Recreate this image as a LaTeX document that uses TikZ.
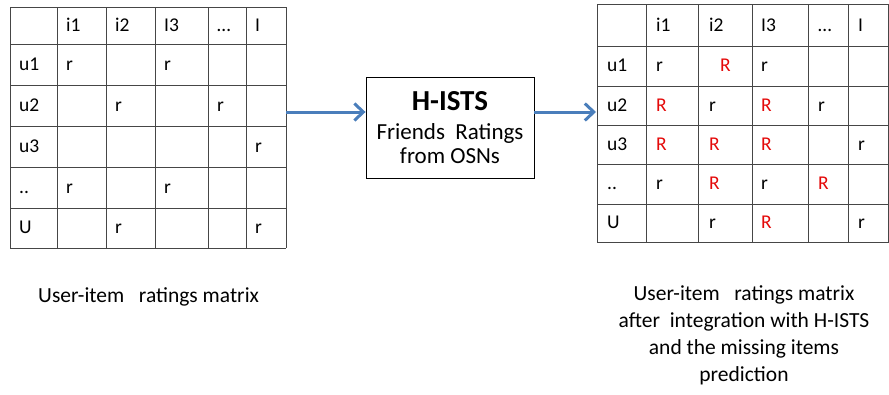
\documentclass[tikz,border=0pt]{standalone}
\usepackage{fontspec}
\setmainfont{Carlito}
\usetikzlibrary{positioning,arrows.meta}
\definecolor{gridgray}{RGB}{70,70,70}
\definecolor{predred}{RGB}{228,10,10}
\definecolor{flowblue}{RGB}{74,126,187}

\begin{document}
\begin{tikzpicture}[x=1pt,y=-1pt,
  font=\fontsize{19.5}{22}\selectfont,
  grid/.style={draw=gridgray,line width=0.9pt},
  cell/.style={anchor=base west,inner sep=0pt},
  pred/.style={cell,text=predred},
  caption/.style={inner sep=0pt,align=center,font=\fontsize{21.5}{27.3}\selectfont},
  flow/.style={draw=flowblue,line width=3pt,-{Straight Barb[length=9pt,width=17pt]}}]
\useasboundingbox (0,0) rectangle (889,394);
% text positions in the two tables
\def\lx{{19,66,115,164,217,255}}
\def\ly{{31,70,111,152,193,233}}
\def\rx{{607,656,709,761,818,858}}
\def\ry{{31,71,111,150,189,228}}
% left table: given ratings
\foreach \x in {10,57,106,155,208,246,286} \draw[grid] (\x,7) -- (\x,248);
\foreach \y in {7,44,85,126,167,208,248} \draw[grid] (10,\y) -- (286,\y);
% right table: after prediction
\foreach \x in {597,646,698,752,808,848,888.5} \draw[grid] (\x,4) -- (\x,242);
\foreach \y in {4,46,86,125,164,204,242} \draw[grid] (597,\y) -- (888.5,\y);
% headers
\foreach \c/\t in {1/i1,2/i2,3/I3,4/\dots,5/I} {
  \node[cell] (lh\c) at ({\lx[\c]},{\ly[0]}) {\t};
  \node[cell] (rh\c) at ({\rx[\c]},{\ry[0]}) {\t};
}
\foreach \r/\t in {1/u1,2/u2,3/u3,4/..,5/U} {
  \node[cell] (lu\r) at ({\lx[0]},{\ly[\r]}) {\t};
  \node[cell] (ru\r) at ({\rx[0]},{\ry[\r]}) {\t};
}
% ratings
\foreach \r/\c in {1/1,1/3,2/2,2/4,3/5,4/1,4/3,5/2,5/5}
  \node[cell] (l\r\c) at ({\lx[\c]},{\ly[\r]}) {r};
\foreach \r/\c in {1/1,1/3,2/2,2/4,3/5,4/1,4/3,5/2,5/5}
  \node[cell] (r\r\c) at ({\rx[\c]},{\ry[\r]}) {r};
\node[pred] (r12) at (720,{\ry[1]}) {R};
\foreach \r/\c in {2/1,2/3,3/1,3/2,3/3,4/2,4/4,5/3}
  \node[pred] (r\r\c) at ({\rx[\c]},{\ry[\r]}) {R};
% H-ISTS block
\node[draw,line width=0.9pt,minimum width=168pt,minimum height=101pt,
      align=center,font=\fontsize{23}{24}\selectfont] (hists) at (450,127.5)
      {{\fontsize{29}{30}\selectfont\bfseries H-ISTS}\\[5pt]Friends\ \ Ratings\\from OSNs};
\coordinate (lout) at (286,112);
\coordinate (rin) at (596,112);
\draw[flow] (lout) -- (lout -| hists.west);
\draw[flow] (lout -| hists.east) -- (rin);
% captions
\node[caption,anchor=base west] (lcap) at (38,302) {User-item\ \ \ ratings matrix};
\node[caption,anchor=north] (rcap) at (744,285)
  {User-item\ \ \ ratings matrix\\after\ \ integration with H-ISTS\\and the missing items\\prediction};
\end{tikzpicture}
\end{document}
